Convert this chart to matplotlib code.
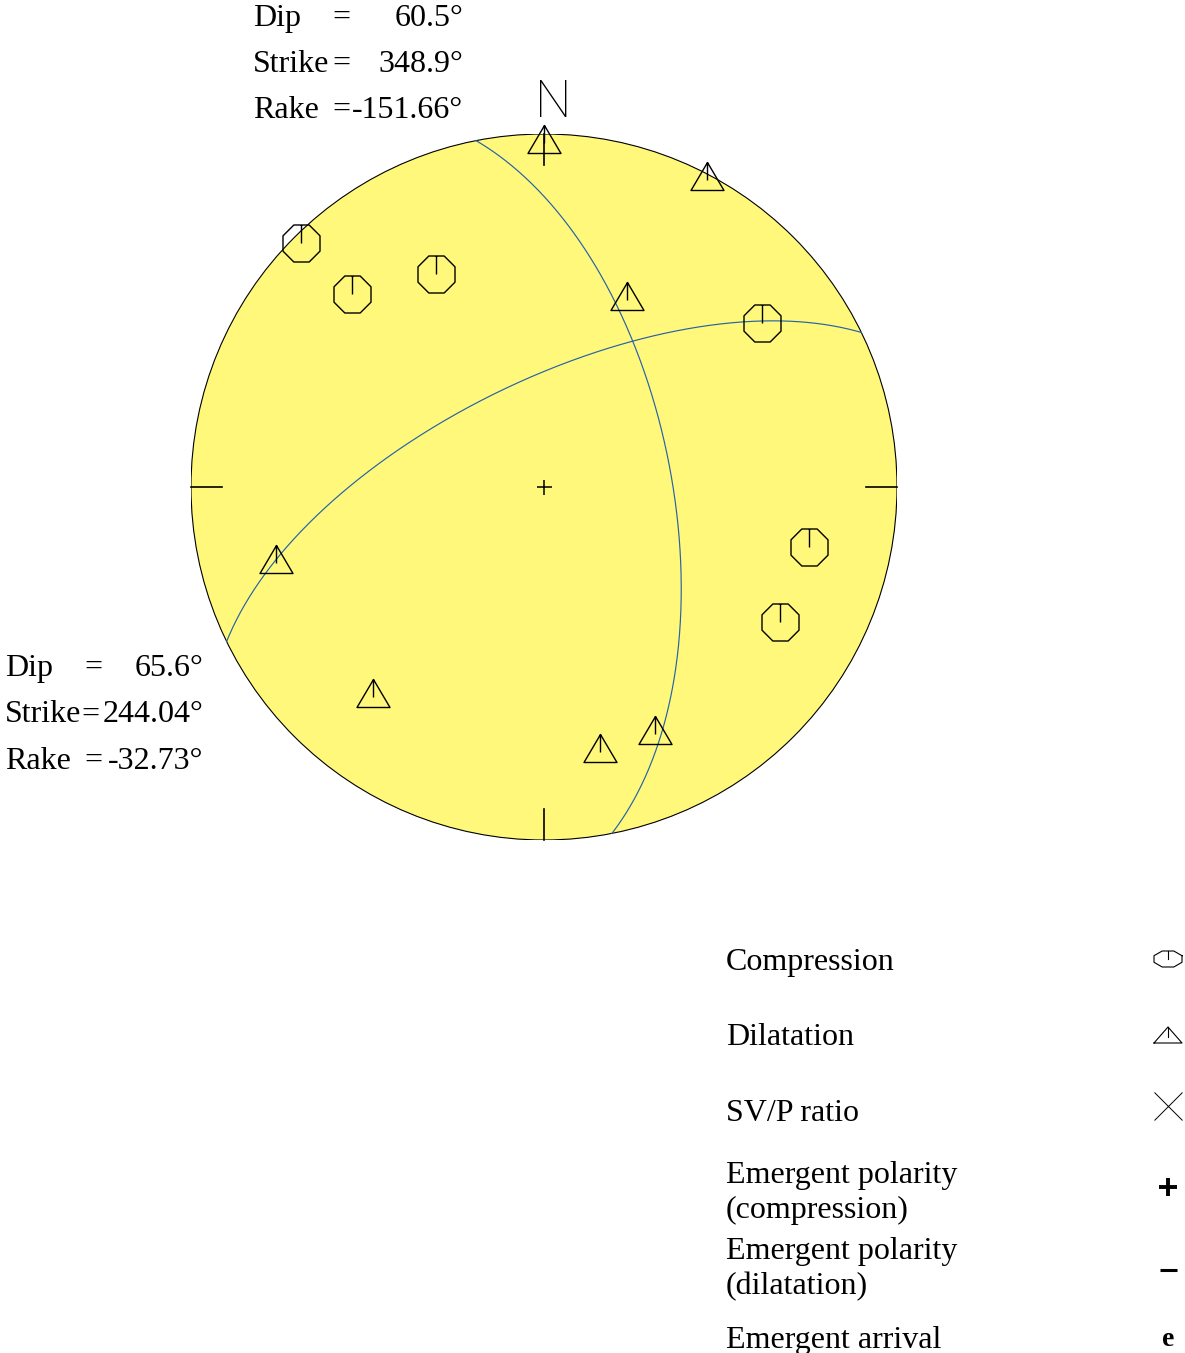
import numpy as np
import matplotlib
matplotlib.use("Agg")
import matplotlib.pyplot as plt
from matplotlib.patches import Circle
from matplotlib.path import Path

# Fault-plane solutions (degrees)
plane1 = {"dip": 60.5, "strike": 348.9, "rake": -151.66}
plane2 = {"dip": 65.6, "strike": 244.04, "rake": -32.73}

# First-motion readings, projected station positions (unit circle, north up)
comp_x = [-0.688, -0.544, -0.306, 0.617, 0.751, 0.669]
comp_y = [0.690, 0.548, 0.604, 0.466, -0.171, -0.382]
dil_x = [0.000, 0.463, 0.235, -0.759, -0.484, 0.160, 0.314]
dil_y = [0.987, 0.881, 0.540, -0.203, -0.584, -0.739, -0.688]

legend_labels = [["Compression"], ["Dilatation"], ["SV/P ratio"],
                 ["Emergent polarity", "(compression)"],
                 ["Emergent polarity", "(dilatation)"],
                 ["Emergent arrival"]]

W, H = 1185, 1353
CX, CY, R = 544, 487, 353          # net centre / radius in pixels
BALL = "#fff87a"
PLANE = "#2563a8"
SERIF = ["Liberation Serif", "DejaVu Serif"]
PX = 0.72                          # points per pixel at 100 dpi


def plane_trace(strike, dip, n=400):
    """Great circle of a plane, lower hemisphere, equal-area (Schmidt)."""
    phi = np.radians(strike)
    dd = phi + np.pi / 2
    d = np.radians(dip)
    lam = np.linspace(0, np.pi, n)
    north = np.cos(lam) * np.cos(phi) + np.sin(lam) * np.cos(dd) * np.cos(d)
    east = np.cos(lam) * np.sin(phi) + np.sin(lam) * np.sin(dd) * np.cos(d)
    down = np.sin(lam) * np.sin(d)
    plunge = np.arcsin(np.clip(down, -1, 1))
    trend = np.arctan2(east, north)
    r = np.sqrt(2) * np.sin((np.pi / 2 - plunge) / 2)
    return r * np.sin(trend), r * np.cos(trend)


# octagon with a tick from the top edge to the centre
ang = np.radians(22.5 + 45 * np.arange(8))
octo = np.column_stack([np.cos(ang), np.sin(ang)])
top = np.sin(np.radians(67.5))
comp_marker = Path(list(octo) + [octo[0], (0, top), (0, 0)],
                   [Path.MOVETO] + [Path.LINETO] * 7 +
                   [Path.CLOSEPOLY, Path.MOVETO, Path.LINETO])

# triangle with a short tick hanging from the apex
tri = [(-16.5, -14), (16.5, -14), (0, 14), (-16.5, -14)]
dil_marker = Path(tri + [(0, 14), (0, -4)],
                  [Path.MOVETO, Path.LINETO, Path.LINETO, Path.CLOSEPOLY,
                   Path.MOVETO, Path.LINETO])

fig = plt.figure(figsize=(W / 100, H / 100), dpi=100)

# ---- stereonet ----
ax = fig.add_axes([(CX - R) / W, (H - CY - R) / H, 2 * R / W, 2 * R / H])
ax.set_xlim(-1, 1)
ax.set_ylim(-1, 1)
ax.axis("off")

ax.add_patch(Circle((0, 0), 1, facecolor=BALL, edgecolor="black",
                    lw=0.8, zorder=1))
for p in (plane1, plane2):
    x, y = plane_trace(p["strike"], p["dip"])
    ax.plot(x, y, color=PLANE, lw=0.85, zorder=2)

tick = 31 / R
for dx, dy in [(0, 1), (1, 0), (0, -1), (-1, 0)]:
    ax.plot([dx, dx * (1 - tick)], [dy, dy * (1 - tick)], color="black",
            lw=1.2, zorder=3, clip_on=False)
ax.plot(0, 0, marker="+", ms=15 * PX, mew=1.1, color="black", zorder=3)

ax.plot(comp_x, comp_y, ls="none", marker=comp_marker, ms=37 * PX,
        mfc="none", mec="black", mew=1.0, zorder=4, clip_on=False)
ax.plot(dil_x, dil_y, ls="none", marker=dil_marker, ms=33 * PX,
        mfc="none", mec="black", mew=1.0, zorder=4, clip_on=False)

# ---- annotation layer in pixel coordinates ----
ov = fig.add_axes([0, 0, 1, 1])
ov.set_xlim(0, W)
ov.set_ylim(H, 0)
ov.axis("off")

ov.text(553.6, 117, "N", ha="center", va="baseline", fontsize=37,
        family=["Roboto", "DejaVu Sans"], fontweight="light")


def solution_block(p, x_name, x_eq, x_val, y0, dy):
    rows = [("Dip", p["dip"]), ("Strike", p["strike"]), ("Rake", p["rake"])]
    for i, (name, val) in enumerate(rows):
        y = y0 + i * dy
        s = ("%g" % val) + "\u00b0"
        ov.text(x_name, y, name, ha="left", va="baseline", fontsize=23,
                family=SERIF)
        ov.text(x_eq[i], y, "=", ha="center", va="baseline", fontsize=23,
                family=SERIF)
        ov.text(x_val, y, s, ha="right", va="baseline", fontsize=23,
                family=SERIF)


solution_block(plane1, 253, [341, 341, 341], 463, 26, 46)
solution_block(plane2, 5, [93, 90, 93], 203, 676, 46.5)

# ---- legend ----
lx, kx = 726, 1168
baselines = [970, 1045, 1121, 1183, 1259, 1348]
key_y = [959, 1035, 1106, 1187, 1270, 1340]
for lines, yb in zip(legend_labels, baselines):
    for j, line in enumerate(lines):
        ov.text(lx, yb + 35 * j, line, ha="left", va="baseline",
                fontsize=23, family=SERIF)

# compression key (flattened octagon)
ky = key_y[0]
ox = kx + octo[:, 0] / 0.924 * 14
oy = ky - octo[:, 1] / 0.924 * 8
ov.plot(np.append(ox, ox[0]), np.append(oy, oy[0]), color="black", lw=0.8)
ov.plot([kx, kx], [ky - 8, ky], color="black", lw=0.8)
# dilatation key
ky = key_y[1]
ov.plot([kx - 14, kx + 14, kx, kx - 14], [ky + 8, ky + 8, ky - 8, ky + 8],
        color="black", lw=0.8)
ov.plot([kx, kx], [ky - 8, ky + 2], color="black", lw=0.8)
# SV/P ratio key
ov.plot(kx, key_y[2], marker="x", ms=28 * PX, mew=0.7, color="black")
# emergent polarity keys
ov.plot(kx, key_y[3], marker="+", ms=18 * PX, mew=2.8, color="black")
ov.plot(kx, key_y[4], marker="_", ms=17 * PX, mew=2.2, color="black")
ov.text(kx, key_y[5], "e", ha="center", va="center", fontsize=20,
        fontweight="bold", family=SERIF)

fig.savefig("out.png", dpi=100)
